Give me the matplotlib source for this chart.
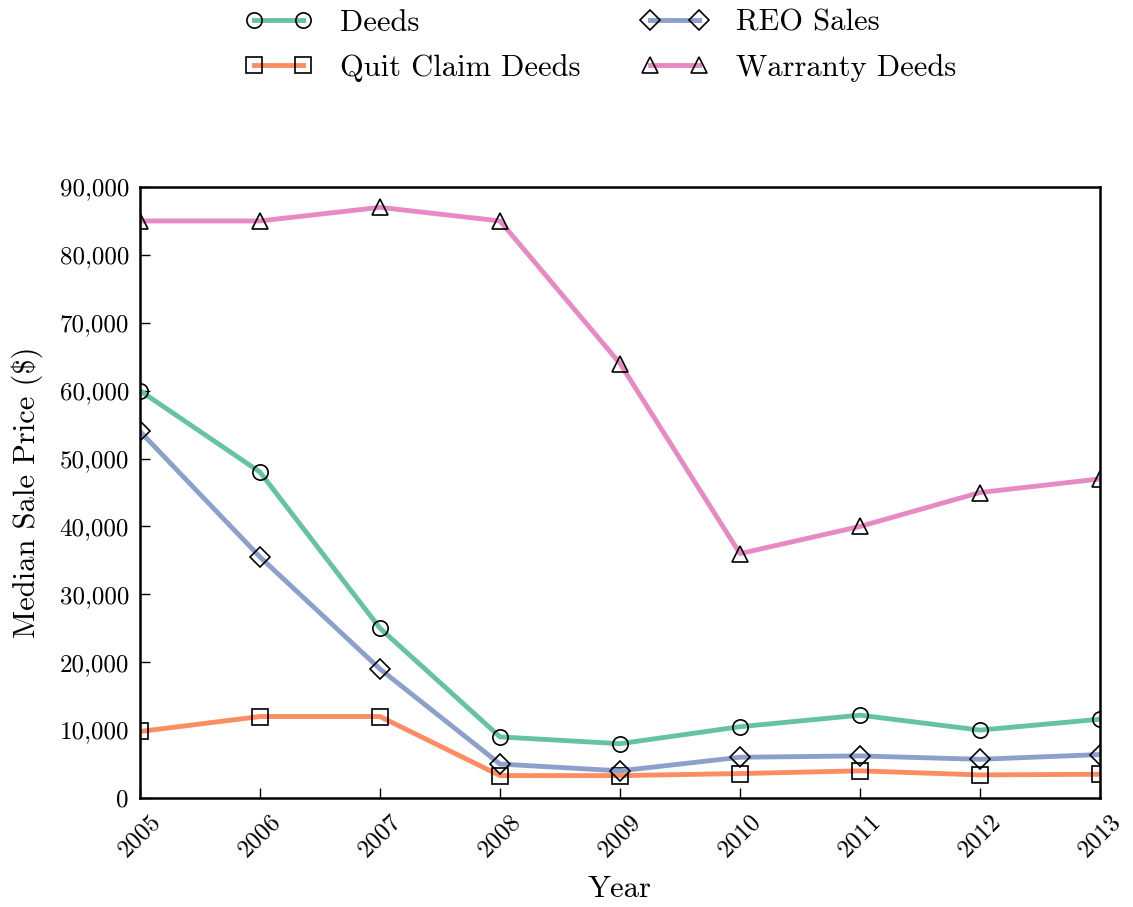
import numpy as np
import matplotlib
matplotlib.use('Agg')
from matplotlib import pyplot as plt
from matplotlib.ticker import FuncFormatter

plt.rcParams['font.family'] = 'serif'
plt.rcParams['font.serif'] = ['cmr10', 'DejaVu Serif']
plt.rcParams['mathtext.fontset'] = 'cm'
plt.rcParams['axes.unicode_minus'] = False

years = [2005, 2006, 2007, 2008, 2009, 2010, 2011, 2012, 2013]

deeds = [60000, 48000, 25000, 9000, 8000, 10500, 12200, 10000, 11600]
quit_claim = [9800, 12000, 12000, 3300, 3300, 3600, 4000, 3400, 3500]
reo_sales = [54000, 35500, 19000, 5000, 4000, 6000, 6200, 5700, 6400]
warranty = [85000, 85000, 87000, 85000, 64000, 36000, 40000, 45000, 47000]

series = [
    ('Deeds', deeds, '#66c2a5', 'o'),
    ('Quit Claim Deeds', quit_claim, '#fc8d62', 's'),
    ('REO Sales', reo_sales, '#8da0cb', 'D'),
    ('Warranty Deeds', warranty, '#e78ac3', '^'),
]

fig = plt.figure(figsize=(11.33, 9.07), dpi=100)
ax = fig.add_axes([140/1133, 1 - 798/907, 960/1133, 611/907])

for name, vals, col, mk in series:
    ms = 10 if mk == 'D' else 11
    ax.plot(years, vals, color=col, linewidth=3.5, marker=mk, markersize=ms,
            markerfacecolor='none', markeredgecolor='black', markeredgewidth=1.2,
            label=name)

ax.set_xlim(2005, 2013)
ax.set_ylim(0, 90000)
ax.set_xticks(years)
ax.set_xticklabels([str(y) for y in years], rotation=45, ha='center')
ax.set_yticks(np.arange(0, 90001, 10000))
ax.yaxis.set_major_formatter(FuncFormatter(lambda v, p: '{:,.0f}'.format(v)))
ax.tick_params(direction='in', length=7, width=1, labelsize=18, top=False, right=False)
ax.tick_params(axis='x', pad=9)
ax.tick_params(axis='y', pad=8)
for s in ax.spines.values():
    s.set_linewidth(1.8)

ax.set_xlabel('Year', fontsize=22, labelpad=10)
ax.set_ylabel(r'Median Sale Price (\$)', fontsize=22, labelpad=12)

fig.legend(loc='upper center', bbox_to_anchor=(0.53, 1.02), ncol=2, frameon=False,
           fontsize=22, numpoints=2, handlelength=2.2, handletextpad=0.9,
           columnspacing=2.0, labelspacing=0.55)

fig.savefig('out.png', dpi=100)
